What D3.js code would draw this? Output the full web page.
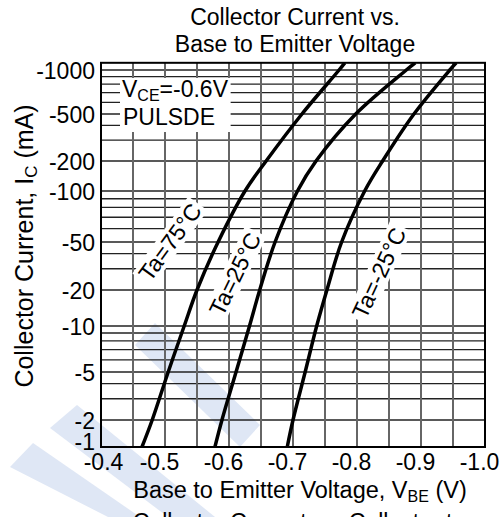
<!DOCTYPE html>
<html>
<head>
<meta charset="utf-8">
<script src="https://cdn.jsdelivr.net/npm/d3@7"></script>
<style>
  html, body { margin: 0; padding: 0; background: #fff; }
  svg { display: block; font-family: "Liberation Sans", Arial, sans-serif; }
</style>
</head>
<body>
<div id="chart"></div>
<script>
// Ic in mA (printed negative on the axis), Vbe in volts
const currents = [1, 2, 5, 10, 20, 50, 100, 200, 500, 1000, 1120];
const vbeTa75 = [-0.464, -0.480, -0.505, -0.530, -0.550, -0.583, -0.625, -0.658, -0.714, -0.772, -0.781];
const vbeTa25 = [-0.578, -0.589, -0.611, -0.632, -0.648, -0.672, -0.707, -0.736, -0.798, -0.877, -0.891];
const vbeTaM25 = [-0.691, -0.700, -0.719, -0.737, -0.753, -0.776, -0.812, -0.840, -0.889, -0.945, -0.955];
const seriesLabels = ["Ta=75°C", "Ta=25°C", "Ta=-25°C"];
const xTicks = [-0.4, -0.5, -0.6, -0.7, -0.8, -0.9, -1.0];
const yTicks = [1000, 500, 200, 100, 50, 20, 10, 5, 2, 1];
const yMax = 1120;

const W = 502, H = 517;
const plotLeft = 101, plotRight = 485;
// the printed log grid is unevenly drawn, so the scale is pinned at each labelled current
const yPins = [70, 114, 161, 191, 242, 290, 326, 372, 420, 447];

const svg = d3.select("#chart").append("svg").attr("width", W).attr("height", H);
svg.append("rect").attr("width", W).attr("height", H).attr("fill", "#fff");

const x = d3.scaleLinear().domain([-0.4, -1.0]).range([plotLeft, plotRight]);
const ly = d3.scaleLinear().domain(yTicks.map(Math.log10)).range(yPins);
const y = v => ly(Math.log10(v));
const plotTop = y(yMax), plotBottom = y(1);

// faint watermark stripes behind the grid
const stripes = [
  [[135, 345], [155, 323], [260, 425], [240, 447]],
  [[50, 428], [77, 405], [215, 517], [168, 517]],
  [[10, 467], [33, 443], [140, 517], [108, 517]]
];
svg.append("g").selectAll("polygon").data(stripes).enter().append("polygon")
  .attr("points", d => d.map(p => p.join(",")).join(" "))
  .attr("fill", "#dfe7f5");

// grid
const vGrid = d3.range(1, 12).map(i => -0.4 - i * 0.05);
const hGrid = [];
[1, 10, 100].forEach(dec => d3.range(1, 10).forEach(m => { if (m * dec > 1) hGrid.push(m * dec); }));
hGrid.push(1000);

const grid = svg.append("g");
grid.selectAll(".h").data(hGrid).enter().append("line")
  .attr("x1", plotLeft).attr("x2", plotRight)
  .attr("y1", d => y(d)).attr("y2", d => y(d))
  .attr("stroke", "#222").attr("stroke-width", 1.3);
grid.selectAll(".v").data(vGrid).enter().append("line")
  .attr("x1", d => x(d)).attr("x2", d => x(d))
  .attr("y1", plotTop).attr("y2", plotBottom)
  .attr("stroke", "#666").attr("stroke-width", 2);

// condition note
const note = svg.append("g");
const noteText = note.append("text").attr("font-size", 23);
noteText.append("tspan").attr("x", 122).attr("y", 97).text("V");
noteText.append("tspan").attr("font-size", 16).attr("dy", 4).text("CE");
noteText.append("tspan").attr("dy", -4).text("=-0.6V");
note.append("text").attr("font-size", 23).attr("x", 123).attr("y", 125).text("PULSDE");
const nb = note.node().getBBox();
note.insert("rect", ":first-child")
  .attr("x", nb.x - 2).attr("y", nb.y + 2).attr("width", nb.width + 4).attr("height", nb.height)
  .attr("fill", "#fff");

// temperature labels with white boxes
const labelSpots = [
  { cx: 170, cy: 242, angle: -54 },
  { cx: 235, cy: 274, angle: -64 },
  { cx: 379, cy: 273, angle: -65 }
];
seriesLabels.forEach((t, i) => {
  const s = labelSpots[i];
  const g = svg.append("g").attr("transform", `translate(${s.cx},${s.cy}) rotate(${s.angle})`);
  const txt = g.append("text").attr("font-size", 23).attr("text-anchor", "middle").attr("dy", "0.35em").text(t);
  const b = txt.node().getBBox();
  g.insert("rect", "text").attr("x", b.x - 3).attr("y", b.y + 1).attr("width", b.width + 6).attr("height", b.height - 2)
    .attr("fill", "#fff");
});

// curves
svg.append("clipPath").attr("id", "plotClip").append("rect")
  .attr("x", plotLeft).attr("y", plotTop).attr("width", plotRight - plotLeft).attr("height", plotBottom - plotTop);

const line = d3.line()
  .x(d => x(d[0]))
  .y(d => y(d[1]))
  .curve(d3.curveCatmullRom);

[vbeTa75, vbeTa25, vbeTaM25].forEach(vs => {
  svg.append("path")
    .datum(vs.map((v, i) => [v, currents[i]]))
    .attr("clip-path", "url(#plotClip)")
    .attr("d", line)
    .attr("fill", "none")
    .attr("stroke", "#000")
    .attr("stroke-width", 3.5)
    .attr("stroke-linejoin", "round");
});

// frame
svg.append("rect").attr("x", plotLeft).attr("y", plotTop).attr("width", plotRight - plotLeft).attr("height", plotBottom - plotTop)
  .attr("fill", "none").attr("stroke", "#000").attr("stroke-width", 2);

// axes labels
const yAxis = d3.axisLeft(ly).tickValues(yTicks.map(Math.log10)).tickSize(0).tickPadding(6)
  .tickFormat(d => "-" + Math.round(Math.pow(10, d)));
svg.append("g").attr("transform", `translate(${plotLeft},0)`).call(yAxis)
  .attr("font-size", 23).attr("font-family", null)
  .call(g => g.select(".domain").remove())
  .selectAll("text").attr("fill", "#000")
  .attr("dy", d => (d === 0 ? "0.1em" : "0.36em"));

const xAxis = d3.axisBottom(x).tickValues(xTicks).tickSize(0).tickPadding(7)
  .tickFormat(d => d.toFixed(1));
svg.append("g").attr("transform", `translate(0,${plotBottom})`).call(xAxis)
  .attr("font-size", 23).attr("font-family", null)
  .call(g => g.select(".domain").remove())
  .selectAll("text").attr("fill", "#000")
  .attr("dx", (d, i) => (i === 0 ? 2 : -6));

// titles
svg.append("text").attr("x", 295).attr("y", 25).attr("text-anchor", "middle").attr("font-size", 23)
  .text("Collector Current vs.");
svg.append("text").attr("x", 295).attr("y", 52).attr("text-anchor", "middle").attr("font-size", 23)
  .text("Base to Emitter Voltage");

const xl = svg.append("text").attr("x", 300).attr("y", 498).attr("text-anchor", "middle").attr("font-size", 23.5);
xl.append("tspan").text("Base to Emitter Voltage, V");
xl.append("tspan").attr("font-size", 16).attr("dy", 4).text("BE");
xl.append("tspan").attr("dy", -4).text(" (V)");

const yl = svg.append("text").attr("transform", "translate(33,246) rotate(-90)")
  .attr("text-anchor", "middle").attr("font-size", 25);
yl.append("tspan").text("Collector Current, I");
yl.append("tspan").attr("font-size", 17).attr("dy", 4).text("C");
yl.append("tspan").attr("dy", -4).text(" (mA)");

// next figure's title, cut off by the page edge
svg.append("text").attr("x", 299).attr("y", 530).attr("text-anchor", "middle").attr("font-size", 23)
  .text("Collector Current vs. Collector to");
</script>
</body>
</html>
